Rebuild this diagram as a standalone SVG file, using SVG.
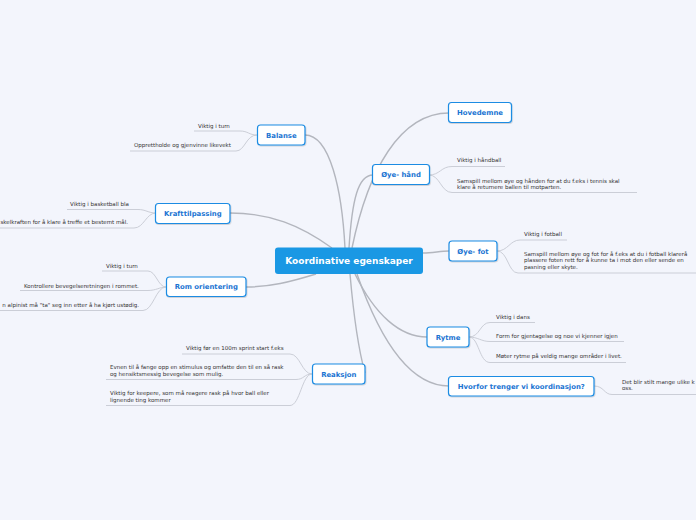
<svg xmlns="http://www.w3.org/2000/svg" width="696" height="520" viewBox="0 0 696 520">
<style>
.main{fill:none;stroke:#b3b6be;stroke-width:1.4}
.sub{fill:none;stroke:#cbced7;stroke-width:1}
.node{fill:#ffffff;stroke:#1c8ce3;stroke-width:1.2}
.nt{font-family:"DejaVu Sans",Verdana,sans-serif;font-weight:bold;font-size:6.9px;fill:#1a74d2;text-anchor:middle}
.st{font-family:"DejaVu Sans",Verdana,sans-serif;font-size:5.5px;fill:#333333}
.ct{font-family:"DejaVu Sans",Verdana,sans-serif;font-weight:bold;font-size:9px;fill:#ffffff;text-anchor:middle}
</style>
<defs>
<filter id="sh" x="-20%" y="-30%" width="140%" height="160%">
<feDropShadow dx="0.6" dy="0.8" stdDeviation="0.7" flood-color="#000" flood-opacity="0.18"/>
</filter>
</defs>
<rect width="696" height="520" fill="#f3f5fc"/>
<g id="connectors">
<path class="main" d="M345,248 C342,190 330,135 305,135"/>
<path class="main" d="M349,248 C352,200 358,175 373,175"/>
<path class="main" d="M352,248 C368,170 400,113 449,113"/>
<path class="main" d="M332,248 C300,225 270,213 230,213"/>
<path class="main" d="M316,274 C290,282 270,287 246,287"/>
<path class="main" d="M423,253 C433,253 440,251 449,251"/>
<path class="main" d="M355,274 C375,315 400,337 427,337"/>
<path class="main" d="M357,274 C380,340 410,386 449,386"/>
<path class="main" d="M350,274 C354,320 360,355 365,373"/>
<path class="sub" d="M257,135 C249,135 248,131 240,131 L194,131"/>
<path class="sub" d="M257,135 C246,135 245,151 236,151 L130,151"/>
<path class="sub" d="M156,213 C148,213 146,209.5 138,209.5 L67,209.5"/>
<path class="sub" d="M156,213 C146,213 144,228 134,228 L-2,228"/>
<path class="sub" d="M166,287 C158,287 156,271 148,271 L102,271"/>
<path class="sub" d="M166,287 C160,287 156,290.5 148,290.5 L20,290.5"/>
<path class="sub" d="M166,287 C156,287 153,310.5 143,310.5 L-2,310.5"/>
<path class="sub" d="M312,374 C302,374 300,354 290,354 L182,354"/>
<path class="sub" d="M312,374 C304,374 304,379.5 296,379.5 L106,379.5"/>
<path class="sub" d="M312,374 C302,374 300,405.5 290,405.5 L106,405.5"/>
<path class="sub" d="M429,175 C440,175 441,166.5 452,166.5 L505,166.5"/>
<path class="sub" d="M429,175 C440,175 441,192.5 452,192.5 L637,192.5"/>
<path class="sub" d="M497,251 C508,251 510,240 520,240 L567,240"/>
<path class="sub" d="M497,251 C508,251 508,273 518,273 L700,273"/>
<path class="sub" d="M469,337 C480,337 480,322.5 490,322.5 L535,322.5"/>
<path class="sub" d="M469,337 C478,337 481,341.5 490,341.5 L624,341.5"/>
<path class="sub" d="M469,337 C479,337 479,362.5 490,362.5 L626,362.5"/>
<path class="sub" d="M594,386 C604,386 604,394.5 612,394.5 L700,394.5"/>
</g>
<g id="center">
<rect x="275" y="247.5" width="148" height="26.5" rx="3" fill="#1a98e4"/>
<text class="ct" x="349" y="264.3">Koordinative egenskaper</text>
</g>
<g id="hovedemne">
<rect class="node" filter="url(#sh)" x="448.5" y="102.5" width="63" height="20" rx="3"/>
<text class="nt" x="480" y="115">Hovedemne</text>
</g>
<g id="oye-hand">
<rect class="node" filter="url(#sh)" x="372.5" y="164.5" width="57" height="20" rx="3"/>
<text class="nt" x="401" y="177">Øye- hånd</text>
<text class="st" x="457" y="162">Viktig i håndball</text>
<text class="st" x="457" y="182.5">Samspill mellom øye og hånden for at du f.eks i tennis skal</text>
<text class="st" x="457" y="188.5">klare å returnere ballen til motparten.</text>
</g>
<g id="oye-fot">
<rect class="node" filter="url(#sh)" x="449" y="241" width="48" height="20" rx="3"/>
<text class="nt" x="473" y="253.5">Øye- fot</text>
<text class="st" x="524" y="235.5">Viktig i fotball</text>
<text class="st" x="524" y="255.5">Samspill mellom øye og fot for å f.eks at du i fotball klarerå</text>
<text class="st" x="524" y="262">plassere foten rett for å kunne ta i mot den eller sende en</text>
<text class="st" x="524" y="268.5">pasning eller skyte.</text>
</g>
<g id="rytme">
<rect class="node" filter="url(#sh)" x="427" y="327" width="42" height="20" rx="3"/>
<text class="nt" x="448" y="339.5">Rytme</text>
<text class="st" x="496" y="318.5">Viktig i dans</text>
<text class="st" x="496" y="337.5">Form for gjentagelse og noe vi kjenner igjen</text>
<text class="st" x="496" y="357.5">Møter rytme på veldig mange områder i livet.</text>
</g>
<g id="hvorfor">
<rect class="node" filter="url(#sh)" x="448.5" y="376.5" width="145.5" height="19.5" rx="3"/>
<text class="nt" x="521.3" y="388.8">Hvorfor trenger vi koordinasjon?</text>
<text class="st" x="622" y="384">Det blir stilt mange ulike k</text>
<text class="st" x="622" y="389.5">oss.</text>
</g>
<g id="balanse">
<rect class="node" filter="url(#sh)" x="257.5" y="125" width="47.5" height="20" rx="3"/>
<text class="nt" x="281.3" y="137.5">Balanse</text>
<text class="st" x="198" y="127.5">Viktig i turn</text>
<text class="st" x="134" y="147">Opprettholde og gjenvinne likevekt</text>
</g>
<g id="krafttilpassing">
<rect class="node" filter="url(#sh)" x="155.5" y="203.5" width="74.5" height="20" rx="3"/>
<text class="nt" x="192.8" y="216">Krafttilpassing</text>
<text class="st" x="70" y="205.5">Viktig i basketball bla</text>
<text class="st" x="128" y="224" text-anchor="end">skelkraften for å klare å treffe et bestemt mål.</text>
</g>
<g id="rom-orientering">
<rect class="node" filter="url(#sh)" x="166.5" y="277" width="79.5" height="19.5" rx="3"/>
<text class="nt" x="206.3" y="289.3">Rom orientering</text>
<text class="st" x="106" y="267.5">Viktig i turn</text>
<text class="st" x="24" y="287.5">Kontrollere bevegelseretningen i rommet.</text>
<text class="st" x="139" y="306.5" text-anchor="end">n alpinist må "ta" seg inn etter å ha kjørt ustødig.</text>
</g>
<g id="reaksjon">
<rect class="node" filter="url(#sh)" x="312.5" y="364" width="52.5" height="20" rx="3"/>
<text class="nt" x="338.8" y="376.5">Reaksjon</text>
<text class="st" x="186" y="349.5">Viktig før en 100m sprint start f.eks</text>
<text class="st" x="110" y="368.5">Evnen til å fange opp en stimulus og omfatte den til en så rask</text>
<text class="st" x="110" y="375.5">og hensiktsmessig bevegelse som mulig.</text>
<text class="st" x="110" y="394.5">Viktig for keepere, som må reagere rask på hvor ball eller</text>
<text class="st" x="110" y="401.5">lignende ting kommer</text>
</g>
</svg>
